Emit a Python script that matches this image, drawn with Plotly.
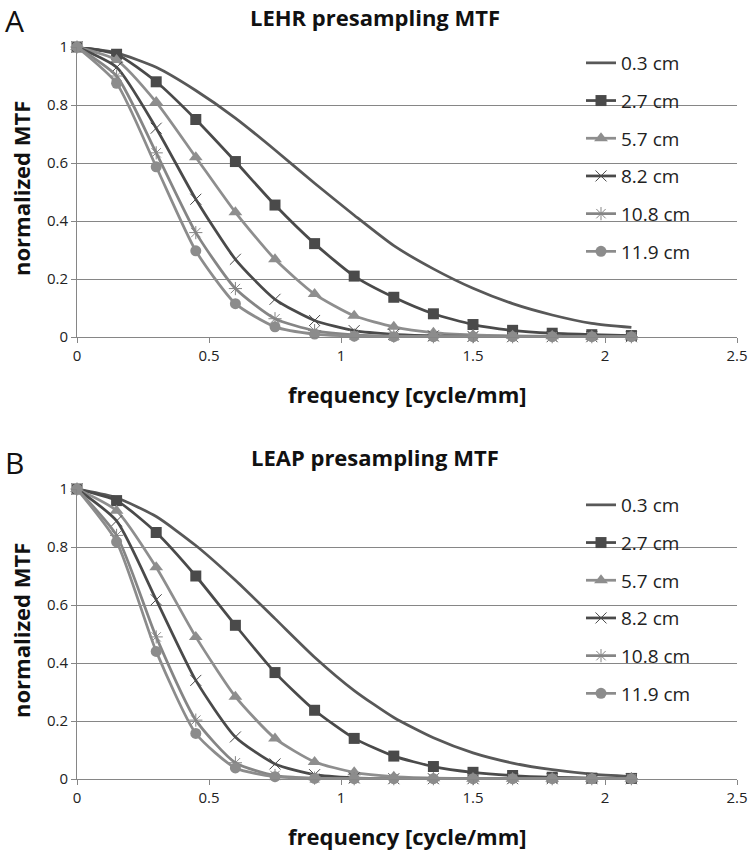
import plotly.graph_objects as go

freq = [0, 0.15, 0.3, 0.45, 0.6, 0.75, 0.9, 1.05, 1.2, 1.35, 1.5, 1.65, 1.8, 1.95, 2.1]
labels = ["0.3 cm", "2.7 cm", "5.7 cm", "8.2 cm", "10.8 cm", "11.9 cm"]

# Panel A: LEHR
lehr_03 = [1, 0.98, 0.93, 0.85, 0.755, 0.645, 0.53, 0.42, 0.315, 0.235, 0.168, 0.115, 0.076, 0.047, 0.033]
lehr_27 = [1, 0.975, 0.88, 0.75, 0.605, 0.455, 0.322, 0.21, 0.137, 0.08, 0.043, 0.023, 0.013, 0.008, 0.005]
lehr_57 = [1, 0.955, 0.81, 0.62, 0.43, 0.268, 0.148, 0.073, 0.035, 0.015, 0.007, 0.004, 0.003, 0.002, 0.002]
lehr_82 = [1, 0.93, 0.72, 0.475, 0.268, 0.13, 0.057, 0.022, 0.009, 0.004, 0.002, 0.001, 0.001, 0.001, 0.001]
lehr_108 = [1, 0.90, 0.635, 0.36, 0.167, 0.063, 0.022, 0.007, 0.003, 0.001, 0.001, 0.001, 0.001, 0.001, 0.001]
lehr_119 = [1, 0.875, 0.587, 0.297, 0.115, 0.035, 0.01, 0.003, 0.001, 0.001, 0.001, 0.001, 0.001, 0.001, 0.001]

# Panel B: LEAP
leap_03 = [1, 0.97, 0.905, 0.805, 0.685, 0.553, 0.42, 0.305, 0.212, 0.142, 0.09, 0.055, 0.032, 0.017, 0.009]
leap_27 = [1, 0.96, 0.85, 0.70, 0.53, 0.367, 0.237, 0.14, 0.079, 0.043, 0.023, 0.012, 0.006, 0.003, 0.002]
leap_57 = [1, 0.925, 0.73, 0.49, 0.284, 0.14, 0.059, 0.023, 0.008, 0.003, 0.001, 0.001, 0.001, 0.001, 0.001]
leap_82 = [1, 0.89, 0.618, 0.34, 0.145, 0.052, 0.015, 0.004, 0.001, 0.001, 0.001, 0.001, 0.001, 0.001, 0.001]
leap_108 = [1, 0.84, 0.49, 0.203, 0.056, 0.012, 0.003, 0.001, 0.001, 0.001, 0.001, 0.001, 0.001, 0.001, 0.001]
leap_119 = [1, 0.818, 0.44, 0.157, 0.038, 0.008, 0.002, 0.001, 0.001, 0.001, 0.001, 0.001, 0.001, 0.001, 0.001]

x_ticks = [0, 0.5, 1, 1.5, 2, 2.5]
x_tick_text = ["0", "0.5", "1", "1.5", "2", "2.5"]
y_ticks = [0, 0.2, 0.4, 0.6, 0.8, 1]
y_tick_text = ["0", "0.2", "0.4", "0.6", "0.8", "1"]

styles = [
    dict(color="#585858", symbol=None),
    dict(color="#4a4a4a", symbol="square"),
    dict(color="#8e8e8e", symbol="triangle-up"),
    dict(color="#4a4a4a", symbol="x-thin"),
    dict(color="#858585", symbol="asterisk"),
    dict(color="#8c8c8c", symbol="circle"),
]

W, H = 750, 850
FONT = "Open Sans"

fig = go.Figure()


def add_panel(series, xa, ya, legend):
    for i, (lab, vals) in enumerate(zip(labels, series)):
        st = styles[i]
        sym = st["symbol"]
        if sym is None:
            mode = "lines"
            marker = None
        else:
            mode = "lines+markers"
            if sym in ("x-thin", "asterisk"):
                marker = dict(symbol=sym, size=11, color=st["color"],
                              line=dict(color=st["color"], width=1))
            else:
                marker = dict(symbol=sym, size=11 if sym != "triangle-up" else 12,
                              color=st["color"], line=dict(width=0))
        fig.add_trace(go.Scatter(
            x=freq, y=vals, name=lab, mode=mode, marker=marker,
            line=dict(color=st["color"], width=2.75, shape="spline", smoothing=0.6),
            xaxis=xa, yaxis=ya, legend=legend, legendgroup=legend + str(i),
            cliponaxis=False,
        ))


add_panel([lehr_03, lehr_27, lehr_57, lehr_82, lehr_108, lehr_119], "x", "y", "legend")
add_panel([leap_03, leap_27, leap_57, leap_82, leap_108, leap_119], "x2", "y2", "legend2")

x0, x1 = 77, 737
top_a, bot_a = 47, 337
top_b, bot_b = 489, 779

xdom = [x0 / W, x1 / W]
ydom_a = [1 - bot_a / H, 1 - top_a / H]
ydom_b = [1 - bot_b / H, 1 - top_b / H]

axis_grey = "#868686"
xcommon = dict(range=[0, 2.5], tickvals=x_ticks, ticktext=x_tick_text, showgrid=False,
               showline=True, linecolor=axis_grey, linewidth=1, ticks="outside",
               ticklen=5, tickcolor=axis_grey, zeroline=False,
               tickfont=dict(family=FONT, size=15, color="#222"), automargin=False,
               domain=xdom)
ycommon = dict(range=[0, 1], tickvals=y_ticks, ticktext=y_tick_text, showgrid=True,
               gridcolor=axis_grey, gridwidth=1, showline=True, linecolor=axis_grey,
               linewidth=1, ticks="outside", ticklen=5, tickcolor=axis_grey,
               zeroline=False, tickfont=dict(family=FONT, size=15, color="#222"),
               automargin=False)

legcommon = dict(bgcolor="rgba(0,0,0,0)", font=dict(family=FONT, size=19, color="#222"),
                 tracegroupgap=10, xanchor="left", yanchor="top", itemwidth=30)

fig.update_layout(
    width=W, height=H, margin=dict(l=0, r=0, t=0, b=0),
    paper_bgcolor="white", plot_bgcolor="white",
    xaxis=dict(**xcommon, anchor="y"),
    yaxis=dict(**ycommon, domain=ydom_a, anchor="x"),
    xaxis2=dict(**xcommon, anchor="y2"),
    yaxis2=dict(**ycommon, domain=ydom_b, anchor="x2"),
    legend=dict(**legcommon, x=581 / W, y=1 - 44 / H),
    legend2=dict(**legcommon, x=581 / W, y=1 - 486 / H),
    showlegend=True,
)

ann = []


def px(xp, yp):
    return xp / W, 1 - yp / H


for title, ty, letter, ly, xt_y, yt_y in [
    ("LEHR presampling MTF", 17, "A", 21, 394, 189),
    ("LEAP presampling MTF", 457, "B", 462, 836, 631),
]:
    ax, ay = px(375, ty)
    ann.append(dict(text=title, x=ax, y=ay, xref="paper", yref="paper", showarrow=False,
                    font=dict(family=FONT, size=22, color="#111", weight="bold"),
                    xanchor="center", yanchor="middle"))
    ax, ay = px(14, ly)
    ann.append(dict(text=letter, x=ax, y=ay, xref="paper", yref="paper", showarrow=False,
                    font=dict(family=FONT, size=30, color="#111"),
                    xanchor="center", yanchor="middle"))
    ax, ay = px(407, xt_y)
    ann.append(dict(text="frequency [cycle/mm]", x=ax, y=ay, xref="paper", yref="paper",
                    showarrow=False,
                    font=dict(family=FONT, size=22, color="#111", weight="bold"),
                    xanchor="center", yanchor="middle"))
    ax, ay = px(21, yt_y)
    ann.append(dict(text="normalized MTF", x=ax, y=ay, xref="paper", yref="paper",
                    showarrow=False, textangle=-90,
                    font=dict(family=FONT, size=22, color="#111", weight="bold"),
                    xanchor="center", yanchor="middle"))

fig.update_layout(annotations=ann)
fig.write_html(
    "out.html",
    config={"displayModeBar": False},
    post_script="document.body.style.margin='0';document.body.style.overflow='hidden';",
)
